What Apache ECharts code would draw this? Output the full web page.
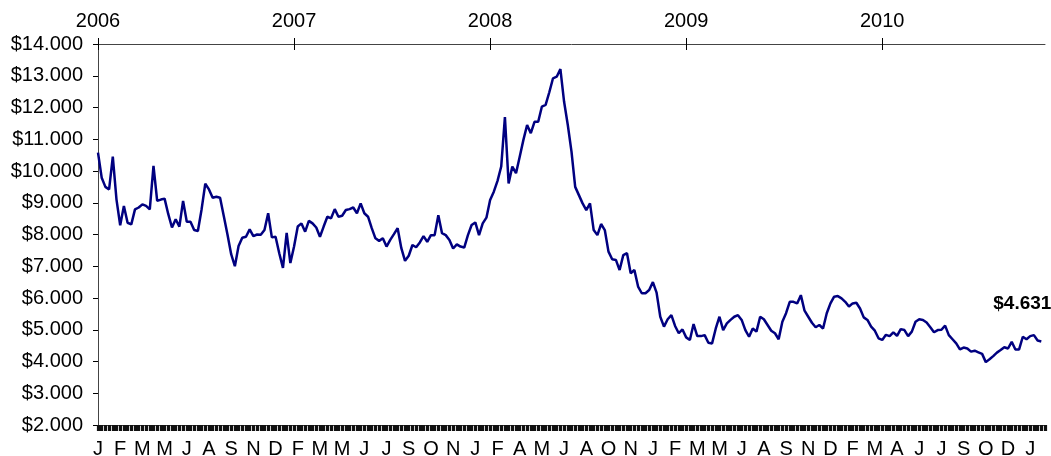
<!DOCTYPE html>
<html>
<head>
<meta charset="utf-8">
<script src="https://cdn.jsdelivr.net/npm/echarts@6/dist/echarts.min.js"></script>
<style>
  html, body { margin: 0; padding: 0; background: #fff; }
  #chart { width: 1051px; height: 456px; }
</style>
</head>
<body>
<div id="chart"></div>
<script>
// weekly samples, Jan 2006 -> Oct 2010
const prices = [
  10.58, 9.79, 9.5, 9.42, 10.45, 9.1, 8.29, 8.9, 8.37, 8.32,
  8.79, 8.85, 8.95, 8.9, 8.79, 10.16, 9.06, 9.1, 9.13, 8.64,
  8.22, 8.48, 8.25, 9.06, 8.4, 8.4, 8.14, 8.11, 8.79, 9.6,
  9.42, 9.16, 9.19, 9.16, 8.58, 8.0, 7.38, 7.0, 7.64, 7.9,
  7.93, 8.16, 7.95, 8.0, 7.99, 8.14, 8.67, 7.91, 7.93, 7.41,
  6.95, 8.05, 7.1, 7.62, 8.25, 8.35, 8.09, 8.43, 8.35, 8.22,
  7.93, 8.25, 8.56, 8.51, 8.8, 8.56, 8.59, 8.77, 8.8, 8.85,
  8.67, 8.98, 8.67, 8.56, 8.2, 7.88, 7.8, 7.88, 7.62, 7.83,
  8.01, 8.2, 7.57, 7.17, 7.33, 7.67, 7.6, 7.75, 7.95, 7.77,
  7.98, 7.98, 8.61, 8.04, 7.98, 7.83, 7.56, 7.69, 7.62, 7.59,
  7.98, 8.3, 8.38, 7.98, 8.35, 8.53, 9.09, 9.35, 9.69, 10.14,
  11.7, 9.61, 10.14, 9.93, 10.45, 10.98, 11.45, 11.19, 11.55, 11.55,
  12.03, 12.08, 12.48, 12.92, 12.97, 13.21, 12.18, 11.45, 10.61, 9.5,
  9.24, 8.98, 8.77, 8.98, 8.14, 7.98, 8.33, 8.14, 7.46, 7.22,
  7.2, 6.88, 7.35, 7.41, 6.78, 6.88, 6.36, 6.15, 6.15, 6.25,
  6.5, 6.17, 5.41, 5.1, 5.33, 5.46, 5.12, 4.89, 5.01, 4.76,
  4.68, 5.18, 4.8, 4.8, 4.83, 4.59, 4.57, 5.04, 5.41, 4.99,
  5.2, 5.31, 5.41, 5.46, 5.31, 4.99, 4.78, 5.04, 4.94, 5.41,
  5.33, 5.15, 4.97, 4.89, 4.7, 5.25, 5.52, 5.88, 5.88, 5.83,
  6.09, 5.6, 5.41, 5.22, 5.08, 5.15, 5.04, 5.52, 5.83, 6.04,
  6.06, 5.99, 5.88, 5.73, 5.83, 5.85, 5.67, 5.39, 5.31, 5.1,
  4.97, 4.73, 4.68, 4.84, 4.8, 4.92, 4.81, 5.02, 4.99, 4.8,
  4.94, 5.25, 5.33, 5.31, 5.23, 5.08, 4.92, 4.99, 5.0, 5.13,
  4.83, 4.7, 4.57, 4.38, 4.44, 4.41, 4.31, 4.34, 4.29, 4.24,
  3.98, 4.07, 4.17, 4.28, 4.36, 4.45, 4.41, 4.62, 4.38, 4.38,
  4.78, 4.7, 4.8, 4.83, 4.66, 4.631
];

// bottom axis letters, one every 6 weeks
const monthLetters = [
  'J','F','M','M','J','A','S','N','D',
  'F','M','M','J','J','S','O','N',
  'J','F','A','M','J','A','O','N',
  'J','F','M','M','J','A','S','N','D',
  'F','M','A','J','J','S','O','D','J'
];
const yearLabels = ['2006', '2007', '2008', '2009', '2010'];
const yearTickIndex = [0, 53, 106, 159, 212];

const weekCount = 257;
const weeks = [];
for (let i = 0; i < weekCount; i++) weeks.push('w' + i);

const lastIdx = prices.length - 1;
const font = "'Liberation Sans', Arial, sans-serif";
const axisColor = '#444';

var chartDom = document.getElementById('chart');
var myChart = echarts.init(chartDom);
var option;

const isYear = function (index) {
  return yearTickIndex.indexOf(index) !== -1;
};

option = {
  animation: false,
  textStyle: { fontFamily: font },
  grid: {
    left: 98,
    right: 6,
    top: 44,
    bottom: 31,
    containLabel: false,
    outerBoundsMode: 'none'
  },
  xAxis: [
    {
      type: 'category',
      position: 'bottom',
      boundaryGap: false,
      data: weeks,
      axisLine: { lineStyle: { color: axisColor, width: 1 } },
      axisTick: {
        interval: 0,
        length: 6,
        lineStyle: { color: '#111', width: 3.2 }
      },
      axisLabel: {
        interval: 5,
        margin: 14,
        fontSize: 20,
        color: '#000',
        fontFamily: font,
        formatter: function (value, index) {
          return monthLetters[Math.round(index / 6)] || '';
        }
      },
      splitLine: { show: false }
    },
    {
      type: 'category',
      position: 'top',
      boundaryGap: false,
      data: weeks,
      axisLine: { lineStyle: { color: axisColor, width: 1 } },
      axisTick: {
        interval: isYear,
        length: 6,
        lineStyle: { color: '#000', width: 1 }
      },
      axisLabel: {
        interval: isYear,
        margin: 13,
        fontSize: 20,
        color: '#000',
        fontFamily: font,
        formatter: function (value, index) {
          return yearLabels[yearTickIndex.indexOf(index)] || '';
        }
      },
      splitLine: { show: false }
    },
    {
      // inner half of the year ticks
      type: 'category',
      position: 'top',
      boundaryGap: false,
      data: weeks,
      axisLine: { show: false },
      axisTick: {
        inside: true,
        interval: isYear,
        length: 6,
        lineStyle: { color: '#000', width: 1 }
      },
      axisLabel: { show: false },
      splitLine: { show: false }
    }
  ],
  yAxis: [
    {
      type: 'value',
      min: 2,
      max: 14,
      interval: 1,
      axisLine: { show: true, lineStyle: { color: axisColor, width: 1 } },
      axisTick: { show: true, length: 5, lineStyle: { color: '#000' } },
      axisLabel: {
        margin: 15,
        fontSize: 20,
        color: '#000',
        fontFamily: font,
        formatter: function (v) {
          return '$' + v.toFixed(3);
        }
      },
      splitLine: { show: false }
    }
  ],
  series: [
    {
      name: 'Price',
      type: 'line',
      xAxisIndex: 0,
      yAxisIndex: 0,
      showSymbol: false,
      symbol: 'none',
      lineStyle: { color: '#000080', width: 2.5 },
      data: prices,
      markPoint: {
        symbol: 'circle',
        symbolSize: 1,
        itemStyle: { color: 'rgba(0,0,0,0)' },
        label: {
          show: true,
          position: 'inside',
          offset: [-19, -38],
          fontSize: 19,
          fontWeight: 'bold',
          color: '#000',
          fontFamily: font,
          formatter: '$4.631'
        },
        data: [{ coord: [lastIdx, prices[lastIdx]] }]
      }
    }
  ]
};

option && myChart.setOption(option);
</script>
</body>
</html>
